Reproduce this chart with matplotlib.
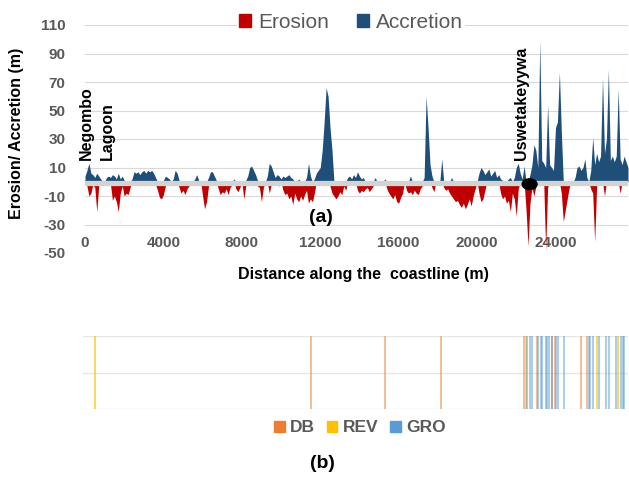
import numpy as np
import matplotlib
matplotlib.use("Agg")
import matplotlib.pyplot as plt
from matplotlib.patches import Patch, Ellipse

plt.rcParams['font.family'] = ['Liberation Sans', 'DejaVu Sans']
plt.rcParams['axes.unicode_minus'] = False

# ---------------- data ----------------
step = 100
distance = np.arange(0, 27800, step)  # transect positions (m)

accretion = [
    4, 8, 13, 6, 5, 3, 6, 4, 2, 0,
    0, 3, 4, 3, 5, 4, 2, 6, 2, 4,
    1, 0, 0, 0, 2, 7, 6, 7, 5, 7,
    8, 6, 8, 7, 8, 6, 3, 0, 0, 0,
    1, 4, 3, 2, 0, 2, 8, 6, 1, 0,
    0, 0, 0, 0, 0, 0, 2, 5, 1, 0,
    0, 0, 0, 3, 7, 7, 4, 1, 0, 0,
    0, 0, 0, 0, 0, 0, 2, 0, 0, 0,
    0, 0, 1, 4, 10, 11, 8, 5, 1, 0,
    0, 1, 0, 4, 13, 11, 7, 3, 5, 4,
    2, 4, 3, 4, 5, 3, 2, 0, 0, 2,
    0, 0, 0, 3, 13, 4, 0, 2, 6, 8,
    10, 22, 42, 66, 60, 38, 22, 0, 0, 0,
    0, 0, 0, 0, 3, 4, 2, 5, 3, 7,
    4, 2, 3, 0, 0, 0, 0, 0, 3, 0,
    0, 0, 0, 2, 0, 0, 0, 0, 0, 0,
    1, 0, 0, 0, 0, 0, 4, 0, 0, 0,
    0, 0, 0, 3, 60, 38, 12, 4, 0, 0,
    0, 0, 16, 0, 0, 0, 0, 3, 0, 0,
    0, 0, 0, 0, 0, 0, 0, 0, 0, 0,
    0, 6, 10, 8, 5, 7, 9, 4, 6, 8,
    3, 5, 2, 1, 0, 0, 2, 3, 0, 3,
    10, 13, 6, 2, 11, 0, 0, 5, 12, 26,
    22, 10, 99, 15, 13, 10, 54, 12, 10, 8,
    38, 42, 77, 35, 0, 0, 0, 0, 0, 0,
    3, 10, 11, 8, 10, 16, 3, 0, 8, 31,
    12, 20, 14, 18, 73, 20, 30, 79, 15, 18,
    14, 18, 65, 16, 12, 18, 14, 10,
]

erosion = [
    0, -3, -10, -8, -2, -4, -21, -3, 0, 0,
    0, 0, 0, -2, -13, -10, -14, -21, -8, -3,
    -10, -8, -9, -4, 0, 0, -1, 0, 0, -2,
    0, 0, -1, 0, 0, 0, -2, -6, -11, -12,
    -9, -3, 0, 0, 0, 0, 0, 0, -4, -8,
    -6, -9, -5, -3, 0, 0, -1, 0, 0, 0,
    -10, -19, -14, -3, 0, 0, 0, 0, -5, -9,
    -7, -8, -5, -9, -4, -2, 0, -5, -7, -4,
    0, -12, -3, 0, 0, 0, 0, 0, -3, -4,
    -14, -4, 0, 0, -8, -2, 0, 0, -2, -3,
    0, -6, -9, -8, -12, -10, -16, -8, -12, -14,
    -10, -13, -9, -6, -15, -12, -14, -8, 0, 0,
    0, 0, 0, 0, 0, -3, -8, -10, -12, -10,
    -7, -9, -3, -6, 0, -2, 0, 0, 0, -6,
    -8, -6, -7, -5, -4, -7, -5, -3, 0, 0,
    -2, 0, 0, 0, -5, -8, -10, -12, -9, -14,
    -15, -11, -8, 0, -6, -8, -7, -9, -6, -8,
    -9, -5, -3, 0, 0, 0, 0, -4, -7, 0,
    0, -2, 0, -4, -6, -5, -8, -10, -12, -14,
    -13, -16, -18, -15, -19, -16, -12, -17, -10, -5,
    0, -8, -14, -12, -6, 0, -3, 0, 0, 0,
    0, 0, -8, -12, -10, -15, -13, -21, -8, -12,
    -24, -5, 0, 0, 0, -20, -45, -15, -4, -10,
    -3, 0, -3, 0, 0, -48, -4, 0, 0, 0,
    -2, 0, 0, -8, -28, -20, -12, -4, 0, 0,
    0, 0, 0, 0, 0, 0, 0, 0, -5, -8,
    -42, -3, 0, 0, 0, -10, 0, 0, 0, 0,
    0, 0, 0, -8, 0, 0, 0, 0,
]

x_ticks = [0, 4000, 8000, 12000, 16000, 20000, 24000]
y_ticks = [-50, -30, -10, 10, 30, 50, 70, 90, 110]

# places
place_labels = ["Negombo", "Lagoon", "Uswetakeyywa"]
place_x = [50, 1120, 22270]
place_y = [15.5, 15.5, 15]
marker_x, marker_y = 22680, -1.7

# coastal structures (bottom panel)
db_positions = [11580, 15370, 18180, 22390, 23100, 23840, 24000, 25330, 25600]
rev_positions = [600, 22500, 26100, 27180]
gro_positions = [22590, 22710, 22800, 23150, 23300, 23350, 23530, 23560, 23700,
                 23860, 24030, 24120, 24430, 25730, 25790, 25940, 26210, 26590,
                 26750, 27090, 27350, 27430, 27520]

# ---------------- styles ----------------
c_ero = "#C00000"
c_acc = "#1F4E79"
c_db = "#ED7D31"
c_rev = "#FFC000"
c_gro = "#5B9BD5"
grid_c = "#D9D9D9"
tick_c = "#595959"

W, H = 629, 478
fig = plt.figure(figsize=(W / 100, H / 100), dpi=100)

# ---------------- panel (a) ----------------
axA = fig.add_axes([85 / W, 1 - 253 / H, 543 / W, 228 / H])
axA.fill_between(distance, 0, accretion, color=c_acc, lw=0, zorder=2)
axA.fill_between(distance, 0, erosion, color=c_ero, lw=0, zorder=2)
axA.axhline(-0.8, color="#D3D3D3", lw=3.8, zorder=3)
axA.set_xlim(0, 27700)
axA.set_ylim(-50, 110)
axA.set_yticks(y_ticks)
axA.set_xticks(x_ticks)
axA.set_xticklabels([str(v) for v in x_ticks])
axA.grid(axis="y", color=grid_c, lw=0.8, zorder=0)
axA.set_axisbelow(True)
for s in axA.spines.values():
    s.set_visible(False)
axA.tick_params(axis="y", length=0, pad=14, labelsize=11, labelcolor=tick_c)
axA.tick_params(axis="x", length=0, pad=-12, labelsize=11, labelcolor=tick_c)
for lab in axA.get_xticklabels() + axA.get_yticklabels():
    lab.set_fontweight("bold")

for name, px, py in zip(place_labels, place_x, place_y):
    axA.text(px, py, name, rotation=90, ha="center", va="bottom",
             fontsize=11.5, fontweight="bold", color="black", zorder=5)
axA.add_patch(Ellipse((marker_x, marker_y), 760, 7.5, color="black", zorder=6))

legA = axA.legend(handles=[Patch(color=c_ero, label="Erosion"),
                           Patch(color=c_acc, label="Accretion")],
                  loc="center", bbox_to_anchor=(0.49, 1.013), ncol=2,
                  frameon=True, facecolor="white", edgecolor="none", framealpha=1,
                  fontsize=15, handlelength=0.6, handleheight=0.6,
                  handletextpad=0.35, columnspacing=1.3, borderpad=0.1)
for t in legA.get_texts():
    t.set_color(tick_c)

fig.text(17 / W, 1 - 133 / H, "Erosion/ Accretion (m)", rotation=90,
         ha="center", va="center", fontsize=11.5, fontweight="bold", color="black")
fig.text(363 / W, 1 - 275 / H, "Distance along the  coastline (m)",
         ha="center", va="center", fontsize=11.5, fontweight="bold", color="black")
fig.text(321 / W, 1 - 218 / H, "(a)", ha="center", va="center",
         fontsize=14, fontweight="bold", color="black")

# ---------------- panel (b) ----------------
axB = fig.add_axes([83 / W, 1 - 409 / H, 545 / W, 73 / H])
axB.vlines(db_positions, 0, 1, color=c_db, lw=1.3, alpha=0.55)
axB.vlines(rev_positions, 0, 1, color=c_rev, lw=1.3, alpha=0.7)
axB.vlines(gro_positions, 0, 1, color=c_gro, lw=1.3, alpha=0.55)
axB.set_xlim(0, 27700)
axB.set_ylim(0, 1)
axB.set_yticks([0, 0.5, 1])
axB.set_xticks([])
axB.grid(axis="y", color="#E6E6E6", lw=1.0, zorder=0)
axB.set_axisbelow(True)
axB.tick_params(axis="y", length=0, labelleft=False)
for s in axB.spines.values():
    s.set_visible(False)

legB = axB.legend(handles=[Patch(color=c_db, label="DB"),
                           Patch(color=c_rev, label="REV"),
                           Patch(color=c_gro, label="GRO")],
                  loc="center", bbox_to_anchor=((360 - 83) / 545, (409 - 428) / 73),
                  ncol=3, frameon=False, fontsize=12.5,
                  handlelength=0.6, handleheight=0.6, handletextpad=0.3,
                  columnspacing=0.7)
for t in legB.get_texts():
    t.set_color(tick_c)
    t.set_fontweight("bold")

fig.text(322 / W, 1 - 464 / H, "(b)", ha="center", va="center",
         fontsize=14, fontweight="bold", color="black")

fig.savefig("out.png", dpi=100)
